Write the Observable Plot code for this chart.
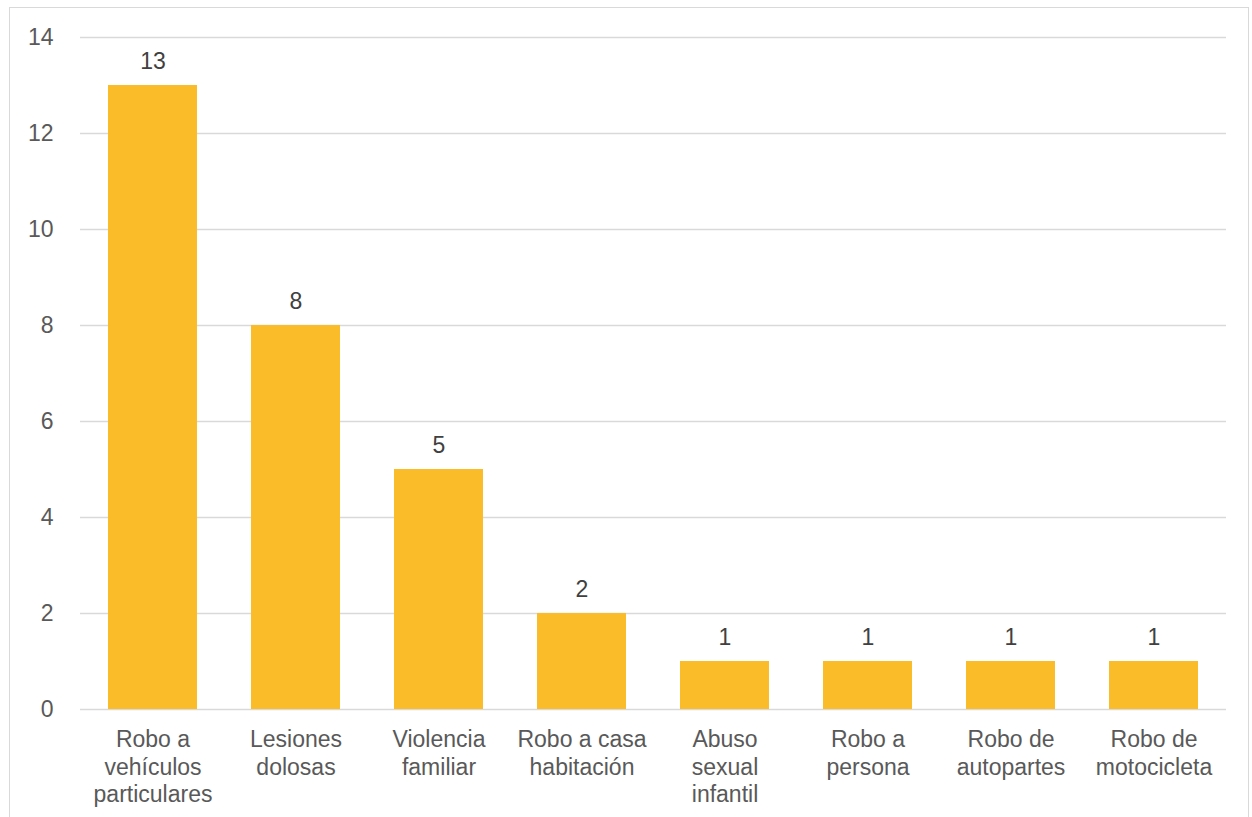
<!DOCTYPE html>
<html><head><meta charset="utf-8">
<script src="https://cdn.jsdelivr.net/npm/d3@7"></script>
<script src="https://cdn.jsdelivr.net/npm/@observablehq/plot@0.6"></script>
<style>
html,body{margin:0;padding:0;background:#fff;overflow:hidden}
#wrap{position:relative;width:1252px;height:817px}
#frame{position:absolute;left:9px;top:7px;width:1240px;height:840px;border:1.5px solid #d9d9d9;box-sizing:border-box;pointer-events:none}
svg{font-family:"Liberation Sans",Arial,sans-serif}
</style></head>
<body><div id="wrap"><div id="frame"></div></div>
<script>
const categories = ["Robo a\nvehículos\nparticulares","Lesiones\ndolosas","Violencia\nfamiliar","Robo a casa\nhabitación","Abuso\nsexual\ninfantil","Robo a\npersona","Robo de\nautopartes","Robo de\nmotocicleta"];
const values = [13, 8, 5, 2, 1, 1, 1, 1];
const yTicks = [0, 2, 4, 6, 8, 10, 12, 14];
const data = categories.map((c, i) => ({cat: c, v: values[i]}));

const chart = Plot.plot({
  width: 1252, height: 817,
  marginLeft: 80, marginRight: 26, marginTop: 37, marginBottom: 108,
  style: {fontFamily: '"Liberation Sans", Arial, sans-serif', background: "transparent"},
  x: {domain: categories, paddingInner: 0.38, paddingOuter: 0.19, label: null},
  y: {domain: [0, 14], label: null},
  marks: [
    Plot.gridY(yTicks, {stroke: "#d9d9d9", strokeOpacity: 1, strokeWidth: 1.5}),
    Plot.barY(data, {x: "cat", y: "v", fill: "#fbbc2a"}),
    Plot.text(data, {x: "cat", y: "v", text: d => String(d.v), dy: -24, fontSize: 23, fill: "#404040"}),
    Plot.axisY(yTicks, {tickSize: 0, tickPadding: 27, fontSize: 23, fill: "#595959", label: null}),
    Plot.axisX({tickSize: 0, tickPadding: 18, fontSize: 23, fill: "#595959", lineHeight: 1.2, label: null})
  ]
});
document.getElementById("wrap").prepend(chart);
</script></body></html>
